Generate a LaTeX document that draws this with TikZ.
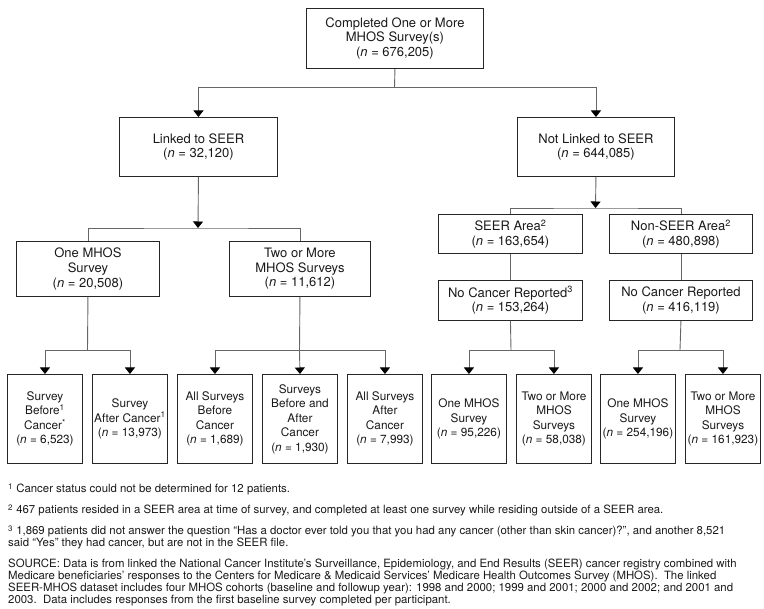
\documentclass[tikz,border=0pt]{standalone}
\usepackage{fontspec}
\setmainfont{TeX Gyre Heros}
\usetikzlibrary{arrows.meta}
\begin{document}
\begin{tikzpicture}[x=1pt,y={(0pt,-1pt)},
  box/.style={draw=black!85, line width=0.9pt, inner sep=0pt, align=center, anchor=north west, text=black!90, font=\fontsize{13}{14.6}\selectfont},
  sbox/.style={box, font=\fontsize{11.8}{14.5}\selectfont, minimum width=75pt, minimum height=89pt},
  conn/.style={draw=black!60, line width=0.9pt},
  arr/.style={conn, -{Triangle[length=6.5pt,width=10pt,fill=black,color=black]}},
  fn/.style={anchor=base west, inner sep=0pt, text=black!90, font=\fontsize{11.4}{12}\selectfont}]
\useasboundingbox (0,0) rectangle (764,609);

% upper boxes
\node[box, minimum width=177pt, minimum height=60pt] (top) at (306,8) {Completed One or More\\MHOS Survey(s)\\(\textit{n} = 676,205)};
\node[box, minimum width=158pt, minimum height=59pt] (linked) at (119,117) {Linked to SEER\\(\textit{n} = 32,120)};
\node[box, minimum width=157pt, minimum height=59pt] (notlinked) at (517,117) {Not Linked to SEER\\(\textit{n} = 644,085)};
\node[box, minimum width=143pt, minimum height=55pt] (onemhos) at (16,241) {One MHOS\\Survey\\(\textit{n} = 20,508)};
\node[box, minimum width=141pt, minimum height=55pt] (twomore) at (229,241) {Two or More\\MHOS Surveys\\(\textit{n} = 11,612)};
\node[box, minimum width=144pt, minimum height=39pt] (seer) at (438,214) {SEER Area\textsuperscript{2}\\(\textit{n} = 163,654)};
\node[box, minimum width=143pt, minimum height=39pt] (nonseer) at (609,214) {Non-SEER Area\textsuperscript{2}\\(\textit{n} = 480,898)};
\node[box, minimum width=144pt, minimum height=40pt] (nc1) at (438,280) {No Cancer Reported\textsuperscript{3}\\(\textit{n} = 153,264)};
\node[box, minimum width=143pt, minimum height=40pt] (nc2) at (609,280) {No Cancer Reported\\(\textit{n} = 416,119)};

% bottom boxes
\node[sbox] (b1) at (7,374) {Survey\\Before\textsuperscript{1}\\Cancer\textsuperscript{*}\\(\textit{n} = 6,523)};
\node[sbox] (b2) at (92,374) {Survey\\After Cancer\textsuperscript{1}\\(\textit{n} = 13,973)};
\node[sbox] (b3) at (177,374) {All Surveys\\Before\\Cancer\\(\textit{n} = 1,689)};
\node[sbox] (b4) at (262,374) {Surveys\\Before and\\After\\Cancer\\(\textit{n} = 1,930)};
\node[sbox] (b5) at (347,374) {All Surveys\\After\\Cancer\\(\textit{n} = 7,993)};
\node[sbox] (b6) at (431,374) {One MHOS\\Survey\\(\textit{n} = 95,226)};
\node[sbox] (b7) at (516,374) {Two or More\\MHOS\\Surveys\\(\textit{n} = 58,038)};
\node[sbox] (b8) at (600,374) {One MHOS\\Survey\\(\textit{n} = 254,196)};
\node[sbox] (b9) at (685,374) {Two or More\\MHOS\\Surveys\\(\textit{n} = 161,923)};

% junctions
\coordinate (j0) at (394.5,87.5);
\coordinate (j1) at (198,228);
\coordinate (j2) at (595.5,208);
\coordinate (j3) at (87.5,350);
\coordinate (j4) at (299.5,350);
\coordinate (j5) at (511,350);
\coordinate (j6) at (680,350);

% connectors
\draw[conn] (top.south) -- (j0);
\draw[arr] (j0) -| (linked.north);
\draw[arr] (j0) -| (notlinked.north);

\draw[arr] (linked.south) -- (j1);
\draw[conn] (onemhos.north) |- (j1) -| (twomore.north);

\draw[arr] (notlinked.south) -- (j2);
\draw[conn] (seer.north) |- (j2) -| (nonseer.north);
\draw[conn] (seer.south) -- (nc1.north);
\draw[conn] (nonseer.south) -- (nc2.north);

\draw[conn] (onemhos.south) -- (j3);
\draw[arr] (j3) -| (b1.north);
\draw[arr] (j3) -| (b2.north);

\draw[conn] (twomore.south) -- (j4);
\draw[arr] (j4) -| (b3.north);
\draw[arr] (j4) -- (b4.north);
\draw[arr] (j4) -| (b5.north);

\draw[conn] (nc1.south) -- (j5);
\draw[arr] (j5) -| (b6.north);
\draw[arr] (j5) -| (b7.north);

\draw[conn] (nc2.south) -- (j6);
\draw[arr] (j6) -| (b8.north);
\draw[arr] (j6) -| (b9.north);

% footnotes
\node[fn] (f1) at (8,493) {\textsuperscript{1} Cancer status could not be determined for 12 patients.};
\node[fn] (f2) at (8,514) {\textsuperscript{2} 467 patients resided in a SEER area at time of survey, and completed at least one survey while residing outside of a SEER area.};
\node[fn] (f3) at (8,535) {\textsuperscript{3} 1,869 patients did not answer the question “Has a doctor ever told you that you had any cancer (other than skin cancer)?”, and another 8,521};
\node[fn] (f4) at (8,547) {said “Yes” they had cancer, but are not in the SEER file.};
\node[fn] (s1) at (8,568) {SOURCE: Data is from linked the National Cancer Institute’s Surveillance, Epidemiology, and End Results (SEER) cancer registry combined with};
\node[fn] (s2) at (8,580) {Medicare beneficiaries’ responses to the Centers for Medicare \& Medicaid Services’ Medicare Health Outcomes Survey (MHOS).\ \ The linked};
\node[fn] (s3) at (8,592) {SEER-MHOS dataset includes four MHOS cohorts (baseline and followup year): 1998 and 2000; 1999 and 2001; 2000 and 2002; and 2001 and};
\node[fn] (s4) at (8,604) {2003.\ \ Data includes responses from the first baseline survey completed per participant.};
\end{tikzpicture}
\end{document}
